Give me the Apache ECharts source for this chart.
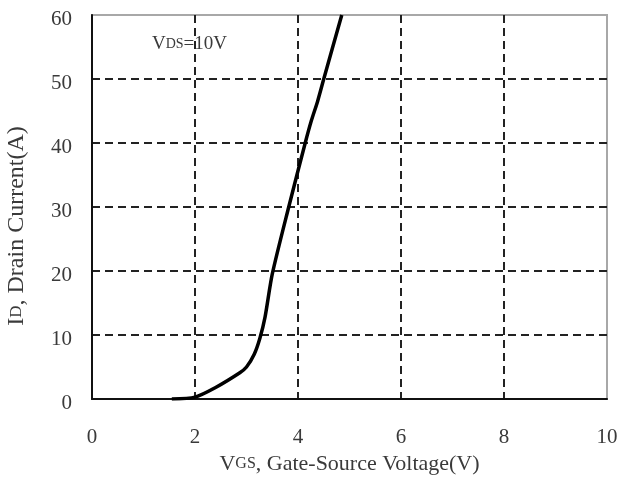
<!DOCTYPE html>
<html>
<head>
<meta charset="utf-8">
<script src="https://cdn.jsdelivr.net/npm/echarts@6/dist/echarts.min.js"></script>
<style>
  html, body { margin: 0; padding: 0; background: #fff; }
  #chart { width: 621px; height: 481px; }
</style>
</head>
<body>
<div id="chart"></div>
<script>
// Transfer characteristic: drain current vs gate-source voltage at VDS = 10 V
const vgs = [1.55, 2.0, 2.4, 2.87, 3.0, 3.15, 3.26, 3.36, 3.5, 3.82, 4.14, 4.26, 4.38, 4.5, 4.85];
const idCurrent = [0, 0.3, 1.8, 4.1, 5.0, 7.0, 9.5, 12.8, 19.5, 30, 40, 43.5, 46.5, 50, 60];
const xTicks = [0, 2, 4, 6, 8, 10];
const yTicks = [0, 10, 20, 30, 40, 50, 60];

const serif = '"Liberation Serif", "DejaVu Serif", serif';
const textColor = '#3a3a3a';
const dash = { color: '#222', width: 2, type: [8, 5] };

const chart = echarts.init(document.getElementById('chart'), null, { renderer: 'canvas' });
chart.setOption({
  animation: false,
  grid: {
    left: 92, right: 14, top: 15, bottom: 82,
    outerBoundsMode: 'none',
    containLabel: false,
    show: true, borderColor: '#a8a8a8', borderWidth: 2, backgroundColor: 'transparent'
  },
  xAxis: {
    type: 'value',
    min: xTicks[0], max: xTicks[xTicks.length - 1], interval: 2,
    axisLine: { show: true, onZero: false, lineStyle: { color: '#111', width: 2 } },
    axisTick: { show: false },
    axisLabel: { margin: 28, color: textColor, fontFamily: serif, fontSize: 21 },
    splitLine: { show: true, showMinLine: false, showMaxLine: false, lineStyle: dash },
    name: '{big|V}{small|GS}{big|, Gate-Source Voltage(V)}',
    nameLocation: 'middle', nameGap: 48,
    nameTextStyle: {
      rich: {
        big: { fontFamily: serif, fontSize: 22, color: textColor },
        small: { fontFamily: serif, fontSize: 16, color: textColor }
      }
    }
  },
  yAxis: {
    type: 'value',
    min: yTicks[0], max: yTicks[yTicks.length - 1], interval: 10,
    axisLine: { show: true, onZero: false, lineStyle: { color: '#111', width: 2 } },
    axisTick: { show: false },
    axisLabel: {
      margin: 20,
      formatter: '{v|{value}}',
      rich: { v: { color: textColor, fontFamily: serif, fontSize: 21, padding: [9, 0, 0, 0] } }
    },
    splitLine: { show: true, showMinLine: false, showMaxLine: false, lineStyle: dash }
  },
  graphic: [{
    type: 'text', x: 17, y: 226, rotation: Math.PI / 2,
    style: {
      text: '{big|I}{small|D}{big|, Drain Current(A)}',
      align: 'center', verticalAlign: 'middle',
      rich: {
        big: { fontFamily: serif, fontSize: 24, fill: textColor },
        small: { fontFamily: serif, fontSize: 17, fill: textColor }
      }
    }
  }, {
    type: 'text', left: 152, top: 35,
    style: {
      text: '{big|V}{small|DS}{big|=10V}',
      rich: {
        big: { fontFamily: serif, fontSize: 19, fill: textColor },
        small: { fontFamily: serif, fontSize: 14, fill: textColor }
      }
    }
  }],
  series: [{
    type: 'line',
    data: vgs.map((v, i) => [v, idCurrent[i]]),
    showSymbol: false,
    smooth: 0.25,
    lineStyle: { color: '#000', width: 3.5 },
    clip: true
  }]
});
</script>
</body>
</html>
